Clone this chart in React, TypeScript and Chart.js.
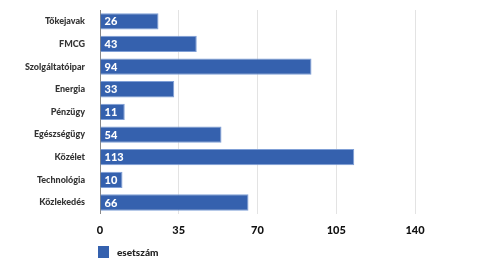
import React, { useEffect, useRef } from "react";
import { Chart, registerables } from "chart.js";

Chart.register(...registerables);

const categories = ["Tőkejavak", "FMCG", "Szolgáltatóipar", "Energia", "Pénzügy", "Egészségügy", "Közélet", "Technológia", "Közlekedés"];
const values = [26, 43, 94, 33, 11, 54, 113, 10, 66];
const seriesName = "esetszám";
const xTicks = [0, 35, 70, 105, 140];

const FONT = "Lato, 'Open Sans', sans-serif";
const BAR_COLOR = "#3561ae";

const valueLabels = {
  id: "valueLabels",
  afterDatasetsDraw(chart: any) {
    const { ctx } = chart;
    const meta = chart.getDatasetMeta(0);
    ctx.save();
    ctx.fillStyle = "#ffffff";
    ctx.font = `900 11px ${FONT}`;
    ctx.textBaseline = "middle";
    ctx.textAlign = "left";
    meta.data.forEach((bar: any, i: number) => {
      ctx.fillText(String(values[i]), bar.base + 4, bar.y + 0.5);
    });
    ctx.restore();
  },
};

const bottomLegend = {
  id: "bottomLegend",
  afterDraw(chart: any) {
    const { ctx, chartArea } = chart;
    const cy = chart.height - 18;
    const x = chartArea.left - 2;
    ctx.save();
    ctx.fillStyle = BAR_COLOR;
    ctx.fillRect(x, cy - 6, 11, 12);
    ctx.fillStyle = "#222";
    ctx.font = `900 10px ${FONT}`;
    ctx.textBaseline = "middle";
    ctx.textAlign = "left";
    ctx.fillText(chart.data.datasets[0].label, x + 19, cy + 0.5);
    ctx.restore();
  },
};

export default function App() {
  const ref = useRef<HTMLCanvasElement>(null);
  useEffect(() => {
    if (!ref.current) return;
    const chart = new Chart(ref.current, {
      type: "bar",
      data: {
        labels: categories,
        datasets: [
          {
            label: seriesName,
            data: values,
            backgroundColor: BAR_COLOR,
            borderColor: "#7f9fd6",
            borderWidth: 1,
          },
        ],
      },
      options: {
        indexAxis: "y",
        animation: false,
        responsive: true,
        maintainAspectRatio: false,
        layout: { autoPadding: false, padding: { top: 2, right: 73, bottom: 23, left: 0 } },
        scales: {
          x: {
            min: 0,
            max: 140,
            afterBuildTicks: (axis: any) => {
              axis.ticks = xTicks.map((v) => ({ value: v }));
            },
            grid: { color: "#e3e3e3", drawTicks: false, tickLength: 0 },
            border: { display: false },
            ticks: {
              color: "#111",
              font: { family: FONT, size: 11, weight: "900" },
              padding: 10,
            },
          },
          y: {
            afterFit: (axis: any) => {
              axis.width = 92;
              axis.paddingTop = 0;
              axis.paddingBottom = 0;
            },
            grid: { display: false },
            border: { display: true, color: "#888", width: 1 },
            ticks: {
              color: "#333",
              font: { family: FONT, size: 9, weight: "900" },
              padding: 7,
            },
          },
        },
        plugins: {
          legend: { display: false },
          tooltip: { enabled: false },
        },
      },
      plugins: [valueLabels, bottomLegend],
    });
    return () => chart.destroy();
  }, []);
  return (
    <div style={{ width: 480, height: 262, position: "relative" }}>
      <canvas ref={ref} />
    </div>
  );
}
